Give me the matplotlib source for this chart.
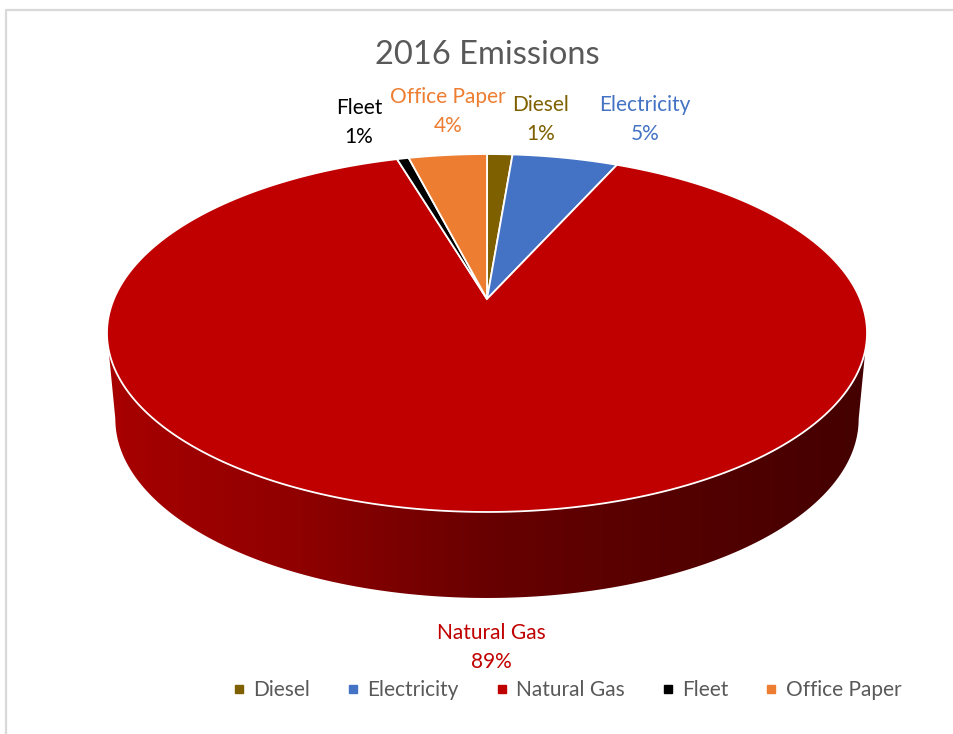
import numpy as np
import matplotlib.pyplot as plt
from matplotlib.patches import Polygon
from matplotlib.colors import LinearSegmentedColormap
from matplotlib.lines import Line2D

plt.rcParams['font.family'] = ['Lato', 'DejaVu Sans']

# data (share of emissions, %)
labels = ['Diesel', 'Electricity', 'Natural Gas', 'Fleet', 'Office Paper']
values = [1.3, 5.4, 88.7, 0.6, 4.0]
colors = ['#7F6000', '#4472C4', '#C00000', '#000000', '#ED7D31']
title = '2016 Emissions'

# 3d pie geometry (pixel space)
cx, apex_y = 487, 299
k = 0.19
A = 373.1
B = -115.7
depth = 86
shrink = 0.978


def top_xy(phi):
    # phi clockwise from 12 o'clock
    u, v = np.sin(phi), np.cos(phi)
    w = 1 + k * v
    return cx + A * u / w, (B * v + apex_y) / w


def bot_xy(phi):
    x, y = top_xy(phi)
    return cx + shrink * (x - cx), y + depth


fig = plt.figure(figsize=(9.54, 7.34), dpi=100)
ax = fig.add_axes([0, 0, 1, 1])
ax.set_xlim(0, 954)
ax.set_ylim(734, 0)
ax.axis('off')

# frame (top + left only, like the cropped screenshot)
ax.plot([6, 6, 954], [734, 10, 10], color='#D9D9D9', lw=1.6, zorder=0)

# side of the cylinder
pe = np.arccos(-k)
ph = np.linspace(pe, 2 * np.pi - pe, 300)
tx, ty = top_xy(ph)
bx, by = bot_xy(ph[::-1])
side = Polygon(np.c_[np.r_[tx, bx], np.r_[ty, by]], closed=True,
               facecolor='none', edgecolor='none')
ax.add_patch(side)
side_cmap = LinearSegmentedColormap.from_list(
    'side', [(0, '#A80000'), (0.25, '#900000'), (0.5, '#680000'),
             (0.75, '#540000'), (1, '#440000')])
grad = np.linspace(0, 1, 256)[None, :]
im = ax.imshow(grad, cmap=side_cmap, aspect='auto',
               extent=(105, 870, 620, 300), zorder=1)
im.set_clip_path(side)
ax.set_xlim(0, 954)
ax.set_ylim(734, 0)

# top face wedges
frac = np.array(values) / sum(values)
start = np.r_[0, np.cumsum(frac)[:-1]] * 2 * np.pi
end = np.cumsum(frac) * 2 * np.pi
for s, e, c in zip(start, end, colors):
    p = np.linspace(s, e, max(int((e - s) * 100), 4))
    x, y = top_xy(p)
    poly = Polygon(np.c_[np.r_[cx, x], np.r_[apex_y, y]], closed=True,
                   facecolor=c, edgecolor='white', lw=1.3, zorder=2)
    ax.add_patch(poly)

ax.text(487, 55, title, ha='center', va='center', fontsize=23.5, color='#595959')

# data labels
lab_pos = {'Diesel': (541, 105), 'Electricity': (645, 105),
           'Natural Gas': (491, 633), 'Fleet': (359, 108),
           'Office Paper': (448, 97)}
for lab, v, c in zip(labels, values, colors):
    lx, ly = lab_pos[lab]
    ax.text(lx, ly, lab, ha='center', va='center', fontsize=15, color=c)
    ax.text(lx, ly + 29, f'{round(v)}%', ha='center', va='center',
            fontsize=15, color=c)

handles = [Line2D([], [], ls='none', marker='s', markersize=5.5,
                  color=c, label=l) for l, c in zip(labels, colors)]
ax.legend(handles=handles, loc='center', bbox_to_anchor=(565 / 954, 1 - 690 / 734),
          ncol=5, frameon=False, fontsize=15, labelcolor='#595959',
          handletextpad=0.2, columnspacing=1.55, handlelength=1.0)

fig.savefig('out.png', dpi=100)
